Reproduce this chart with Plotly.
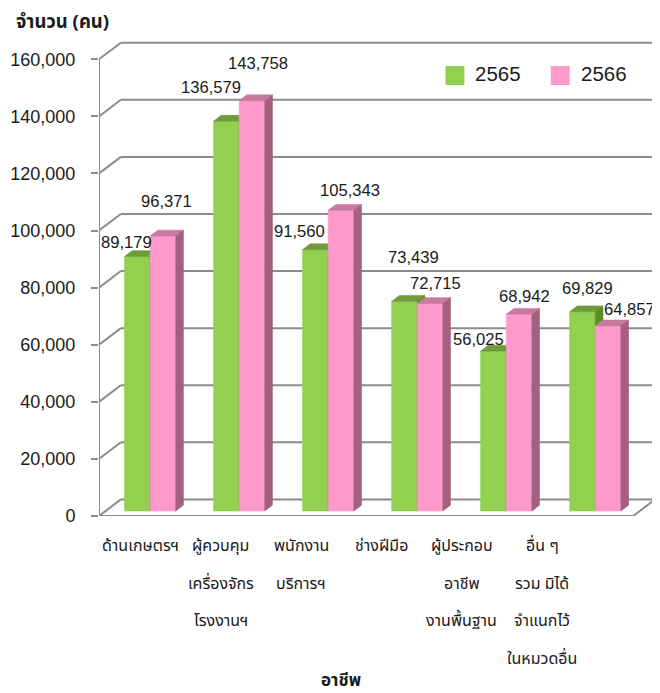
import plotly.graph_objects as go

# ---------------- data ----------------
category_lines = [
    ["ด้านเกษตรฯ"],
    ["ผู้ควบคุม", "เครื่องจักร", "โรงงานฯ"],
    ["พนักงาน", "บริการฯ"],
    ["ช่างฝีมือ"],
    ["ผู้ประกอบ", "อาชีพ", "งานพื้นฐาน"],
    ["อื่น ๆ", "รวม มิได้", "จำแนกไว้", "ในหมวดอื่น"],
]
series_names = ["2565", "2566"]
values_2565 = [89179, 136579, 91560, 73439, 56025, 69829]
values_2566 = [96371, 143758, 105343, 72715, 68942, 64857]
y_ticks = [0, 20000, 40000, 60000, 80000, 100000, 120000, 140000, 160000]
y_title = "จำนวน (คน)"
x_title = "อาชีพ"

# ---------------- styling / geometry ----------------
# The page body has an 8px margin, so the figure is drawn 8px smaller and
# every reference pixel position is shifted by OFF.
OFF = 8.0
W, H = 652, 685
ML = 95.0 - OFF            # front y-axis pixel x
FRONT_RIGHT = 633.0 - OFF  # front floor right end
MR = 2.0
MT = 36.0 - OFF
Y0PX = 516.0 - OFF         # front floor pixel y
PPU = 456.7 / 160000       # pixels per unit on y
MB = H - Y0PX
PW = W - ML - MR
PH = H - MT - MB
NCAT = len(values_2565)
CW = (FRONT_RIGHT - ML) / NCAT
DX = 22.0 / CW       # depth offset (x data units)
DY = 16.6 / PPU      # depth offset (y data units)
F = 0.30             # bar front plane depth fraction
BD = 0.35            # bar depth fraction
GX0 = (120.7 - OFF - ML) / CW
BW = 25.8 / CW
BASE = F * DY

GRID = "#8c8c8c"
FONT_NUM = "Tahoma, 'Liberation Sans', Arial, 'Noto Sans Thai', sans-serif"
FONT_TH = "Tahoma, 'Noto Sans Thai', 'Leelawadee UI', 'Liberation Sans', sans-serif"

colors = {
    "2565": {"front": "#92D050", "top": "#6E9C3A", "side": "#5E8A2C"},
    "2566": {"front": "#FF99CC", "top": "#C97AA0", "side": "#A4607F"},
}

# label offsets (px) relative to bar front-top centre
label_dx = {"2565": [-11, -15, -16, 9, -15, 5], "2566": [4, 6, 9, 5, 5, 21]}
label_dy = {"2565": [14, 34, 18, 44, 12, 23], "2566": [34, 37, 20, 20, 18, 16]}


def px_x(px):
    """reference pixel x -> paper x"""
    return (px - OFF - ML) / PW


def px_y(py):
    """reference pixel y -> paper y"""
    return (H - MB - (py - OFF)) / PH


fig = go.Figure()

series = [("2565", values_2565, 0), ("2566", values_2566, 1)]
annotations = []
for name, vals, k in series:
    fx, fy, tx, ty, sx, sy = [], [], [], [], [], []
    for i, v in enumerate(vals):
        x0 = i + GX0 + k * BW
        x1 = x0 + BW
        top = v + BASE
        fx += [x0, x1, x1, x0, x0, None]
        fy += [BASE, BASE, top, top, BASE, None]
        tx += [x0, x1, x1 + BD * DX, x0 + BD * DX, x0, None]
        ty += [top, top, top + BD * DY, top + BD * DY, top, None]
        sx += [x1, x1 + BD * DX, x1 + BD * DX, x1, x1, None]
        sy += [BASE, BASE + BD * DY, top + BD * DY, top, BASE, None]
        annotations.append(dict(
            x=(x0 + x1) / 2, y=top, xref="x", yref="y",
            text=f"{v:,}", showarrow=False,
            xshift=label_dx[name][i], yshift=label_dy[name][i],
            xanchor="center", yanchor="middle",
            font=dict(family=FONT_NUM, size=16.6, color="#1a1a1a"),
        ))
    c = colors[name]
    for xs, ys, col in ((fx, fy, c["front"]), (tx, ty, c["top"]), (sx, sy, c["side"])):
        fig.add_trace(go.Scatter(
            x=xs, y=ys, mode="lines", fill="toself", fillcolor=col,
            line=dict(color=col, width=0.6), hoverinfo="skip", showlegend=False,
            cliponaxis=False,
        ))

# ---------------- walls / grid ----------------
shapes = []
for v in y_ticks:
    shapes.append(dict(type="line", xref="x", yref="y", x0=DX, y0=v + DY, x1=NCAT + DX, y1=v + DY,
                       line=dict(color=GRID, width=2), layer="below"))
    shapes.append(dict(type="line", xref="x", yref="y", x0=0, y0=v, x1=DX, y1=v + DY,
                       line=dict(color=GRID, width=2), layer="below"))
shapes.append(dict(type="line", xref="x", yref="y", x0=0, y0=0, x1=NCAT, y1=0,
                   line=dict(color=GRID, width=2), layer="below"))
shapes.append(dict(type="line", xref="x", yref="y", x0=NCAT, y0=0, x1=NCAT + DX, y1=DY,
                   line=dict(color=GRID, width=2), layer="below"))
shapes.append(dict(type="line", xref="x", yref="y", x0=0, y0=0, x1=0, y1=y_ticks[-1],
                   line=dict(color=GRID, width=2), layer="below"))

# ---------------- legend (manual) ----------------
leg = [(444.0, 472.0), (550.0, 578.0)]
for (sqx, txx), name in zip(leg, series_names):
    shapes.append(dict(type="rect", xref="paper", yref="paper",
                       x0=px_x(sqx), x1=px_x(sqx + 19), y0=px_y(85), y1=px_y(66),
                       fillcolor=colors[name]["front"], line=dict(width=0)))
    annotations.append(dict(x=px_x(txx), y=px_y(73.5), xref="paper", yref="paper",
                            text=name, showarrow=False, xanchor="left", yanchor="middle",
                            font=dict(family=FONT_NUM, size=20.5, color="#1a1a1a")))

# ---------------- category labels ----------------
for i, lines in enumerate(category_lines):
    cx = 136.5 + 81.0 * i
    for j, line in enumerate(lines):
        annotations.append(dict(x=px_x(cx), y=px_y(546 + 37.5 * j), xref="paper", yref="paper",
                                text=line, showarrow=False, xanchor="center", yanchor="middle",
                                font=dict(family=FONT_TH, size=16, color="#1a1a1a")))

annotations.append(dict(x=px_x(338.3), y=px_y(681), xref="paper", yref="paper",
                        text=f"<b>{x_title}</b>", showarrow=False, xanchor="center", yanchor="middle",
                        font=dict(family=FONT_TH, size=17, color="#1a1a1a")))
annotations.append(dict(x=px_x(9), y=px_y(22), xref="paper", yref="paper",
                        text=f"<b>{y_title}</b>", showarrow=False, xanchor="left", yanchor="middle",
                        font=dict(family=FONT_TH, size=18.5, color="#1a1a1a")))

fig.update_layout(
    width=W, height=H,
    margin=dict(l=ML, r=MR, t=MT, b=MB, pad=0),
    paper_bgcolor="white", plot_bgcolor="white",
    showlegend=False,
    shapes=shapes, annotations=annotations,
    xaxis=dict(range=[0, PW / CW], showgrid=False, zeroline=False, showline=False,
               showticklabels=False, ticks="", fixedrange=True),
    yaxis=dict(range=[0, PH / PPU], showgrid=False, zeroline=False, showline=False,
               tickmode="array", tickvals=y_ticks, ticktext=[f"{v:,}" for v in y_ticks],
               ticks="outside", ticklen=7, tickwidth=2, tickcolor=GRID,
               ticklabelstandoff=12,
               tickfont=dict(family=FONT_NUM, size=18, color="#1a1a1a")),
)

fig.write_html("out.html")
